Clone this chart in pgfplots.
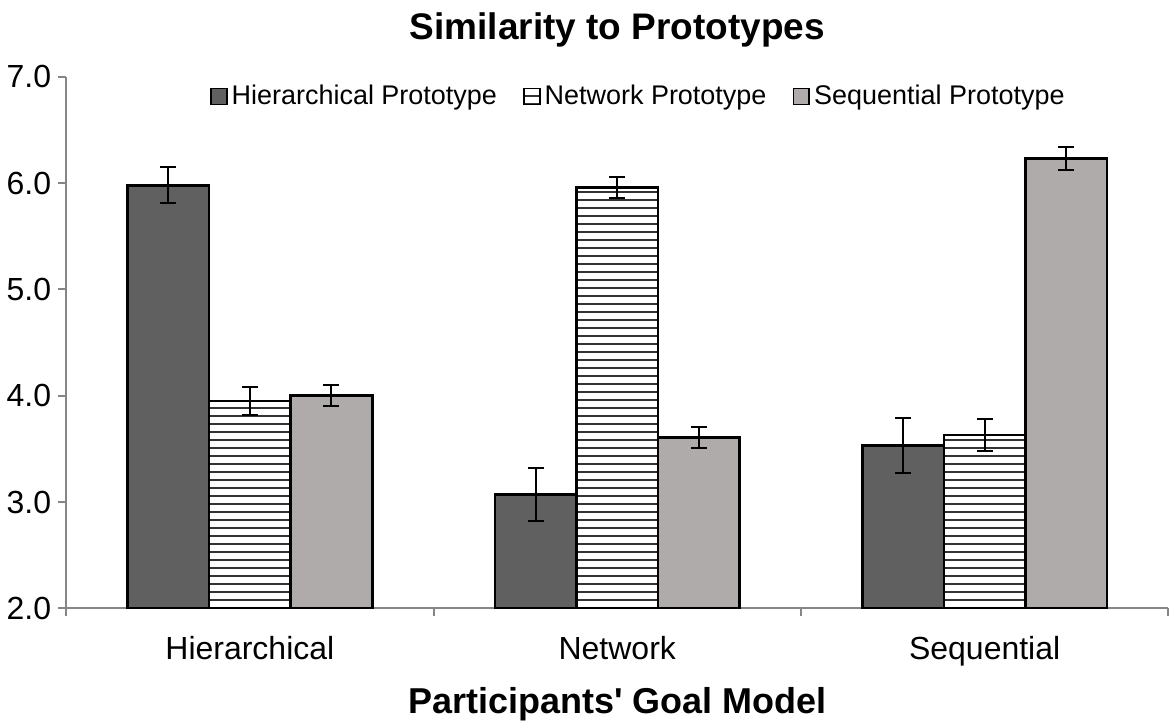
\documentclass[border=0pt]{standalone}
\usepackage{pgfplots}
\pgfplotsset{compat=1.18}
\usetikzlibrary{patterns.meta}
\usepackage{fontspec}
\setmainfont{Liberation Sans}

\definecolor{darkbar}{HTML}{606060}
\definecolor{lightbar}{HTML}{AFABAB}
\definecolor{axisgray}{HTML}{868686}

\begin{document}
\begin{tikzpicture}
\begin{axis}[
    scale only axis,
    width=551.5pt, height=266pt,
    ybar=0pt,
    bar width=0.222,
    xmin=-0.5, xmax=2.5,
    ymin=2, ymax=7,
    ytick={2,3,4,5,6,7},
    xtick={0,1,2},
    xticklabels={Hierarchical,Network,Sequential},
    xtick style={draw=none},
    extra x ticks={-0.5,0.5,1.5,2.5},
    extra x tick labels={},
    extra x tick style={xtick style={draw=axisgray, line width=1pt}},
    axis x line=bottom, axis y line=left,
    axis line style={-, draw=axisgray, line width=1pt},
    ytick style={draw=axisgray, line width=1pt},
    tick align=outside,
    major tick length=4pt,
    yticklabel style={/pgf/number format/.cd, fixed, fixed zerofill, precision=1, assume math mode=true},
    tick label style={font=\fontsize{16}{19}\selectfont},
    x tick label style={yshift=-6.5pt},
    title={Similarity to Prototypes},
    title style={font=\fontsize{18.5}{22}\bfseries, inner ysep=6.5pt, yshift=2pt},
    xlabel={Participants\textquotesingle{} Goal Model},
    xlabel style={font=\fontsize{18}{21}\bfseries, yshift=4.5pt},
    legend columns=-1,
    legend style={draw=none, at={(0.52,1.0)}, anchor=north,
        font=\fontsize{13.5}{16}\selectfont,
        /tikz/every even column/.append style={column sep=11pt}},
    legend image code/.code={\draw[#1, line width=0.8pt] (0pt,-4pt) rectangle (8pt,4pt);},
    error bars/y dir=both, error bars/y explicit,
    error bars/error bar style={black, line width=1pt},
    error bars/error mark options={rotate=90, mark size=4pt, black, line width=1pt},
]
\addplot[draw=black, line width=1.3pt, fill=darkbar] coordinates {
    (0,5.98) +- (0,0.17)
    (1,3.07) +- (0,0.25)
    (2,3.53) +- (0,0.26)
};
\addplot[draw=black, line width=1.3pt, fill=white,
    postaction={pattern={Lines[angle=0, distance=4pt, line width=0.9pt]}, pattern color=black!80}] coordinates {
    (0,3.95) +- (0,0.13)
    (1,5.96) +- (0,0.10)
    (2,3.63) +- (0,0.15)
};
\addplot[draw=black, line width=1.3pt, fill=lightbar] coordinates {
    (0,4.00) +- (0,0.10)
    (1,3.61) +- (0,0.10)
    (2,6.23) +- (0,0.11)
};
\legend{Hierarchical Prototype, Network Prototype, Sequential Prototype}
\end{axis}
\end{tikzpicture}
\end{document}
